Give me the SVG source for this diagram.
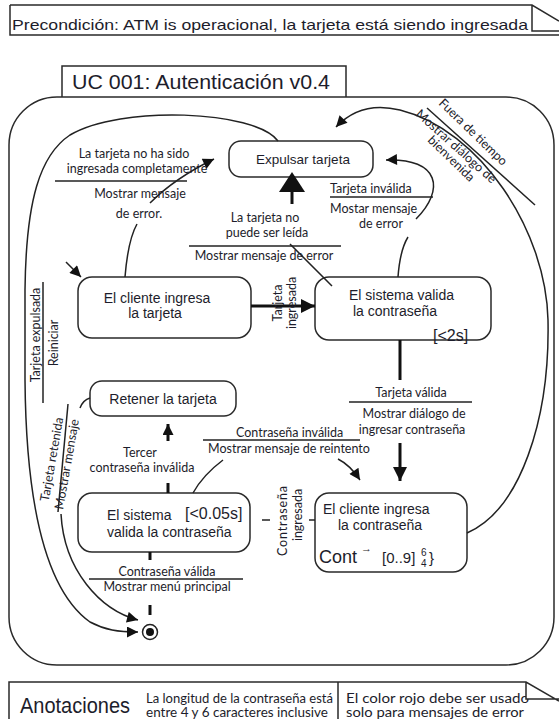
<svg xmlns="http://www.w3.org/2000/svg" width="559" height="719" viewBox="0 0 559 719">
  <style>
    text { font-family: "Liberation Sans", Arial, sans-serif; fill: #1d1d2b; }
    .lbl { font-family: Lato, "Liberation Sans", sans-serif; font-size: 12.5px; }
    .node { fill: #fff; stroke: #2a2a2a; stroke-width: 1.5; }
    .ln { fill: none; stroke: #222; stroke-width: 1.5; }
    .thk { fill: none; stroke: #111; stroke-width: 3; }
    .frame { fill: none; stroke: #2a2a2a; stroke-width: 1.5; }
    .mid { text-anchor: middle; }
  </style>
  <defs>
    <marker id="ah" viewBox="0 0 10 10" refX="10" refY="5" markerWidth="13" markerHeight="11" markerUnits="userSpaceOnUse" orient="auto">
      <path d="M0,0 L10,5 L0,10 z" fill="#111"/>
    </marker>
    <marker id="ahL" viewBox="0 0 10 10" refX="10" refY="5" markerWidth="14" markerHeight="16" markerUnits="userSpaceOnUse" orient="auto">
      <path d="M0,0 L10,5 L0,10 z" fill="#111"/>
    </marker>
  </defs>

  <!-- precondition note -->
  <g id="precondicion">
    <path class="frame" d="M10 5 H532 L559 21 M10 5 V35 H559 M532 5 V31 H559"/>
    <text x="12" y="30" font-size="15" textLength="516" lengthAdjust="spacingAndGlyphs">Precondición: ATM is operacional, la tarjeta está siendo ingresada</text>
  </g>

  <!-- use case frame -->
  <g id="marco">
    <path class="frame" d="M62 97 V66 H346 V97"/>
    <text x="72" y="89" font-size="21" textLength="258" lengthAdjust="spacingAndGlyphs">UC 001: Autenticación v0.4</text>
    <rect class="frame" x="9" y="97" width="545" height="568" rx="48"/>
  </g>

  <!-- states -->
  <g id="expulsar">
    <rect class="node" x="229" y="141" width="144" height="36" rx="12"/>
    <text class="mid" x="303" y="164" font-size="13.5">Expulsar tarjeta</text>
  </g>
  <g id="cliente-tarjeta">
    <rect class="node" x="78" y="277" width="173" height="61" rx="14"/>
    <text class="mid" x="157" y="303" font-size="14">El cliente ingresa</text>
    <text class="mid" x="155" y="318" font-size="14">la tarjeta</text>
  </g>
  <g id="sistema-valida">
    <rect class="node" x="315" y="277" width="176" height="63" rx="14"/>
    <text x="349" y="300" font-size="14">El sistema valida</text>
    <text x="353" y="316" font-size="14">la contraseña</text>
    <text x="433" y="341" font-size="16">[&lt;2s]</text>
  </g>
  <g id="retener">
    <rect class="node" x="90" y="381" width="146" height="35" rx="12"/>
    <text class="mid" x="163" y="404" font-size="14">Retener la tarjeta</text>
  </g>
  <g id="sistema-valida-2">
    <rect class="node" x="78" y="493" width="172" height="59" rx="14"/>
    <text x="107" y="520" font-size="14">El sistema</text>
    <text x="185" y="519" font-size="16">[&lt;0.05s]</text>
    <text x="107" y="537" font-size="14">valida la contraseña</text>
  </g>
  <g id="cliente-contrasena">
    <rect class="node" x="315" y="493" width="152" height="79" rx="14"/>
    <text x="323" y="514" font-size="14">El cliente ingresa</text>
    <text x="338" y="530" font-size="14">la contraseña</text>
    <text x="319" y="563" font-size="18">Cont</text>
    <text x="361" y="552" font-size="11">→</text>
    <text x="382" y="563" font-size="15">[0..9]</text>
    <text x="421" y="556" font-size="10">6</text>
    <text x="421" y="567" font-size="10">4</text>
    <text x="429" y="563" font-size="15">}</text>
  </g>
  <g id="final">
    <circle cx="150" cy="632" r="7.5" fill="#fff" stroke="#222" stroke-width="1.5"/>
    <circle cx="150" cy="632" r="4" fill="#111"/>
  </g>

  <!-- transitions -->
  <g id="conectores">
    <!-- initial -->
    <line class="ln" x1="66" y1="262" x2="81" y2="277" marker-end="url(#ah)"/>

    <!-- tarjeta ingresada -->
    <line class="thk" x1="251" y1="306" x2="315" y2="306" marker-end="url(#ahL)"/>
    <text class="lbl mid" font-size="10.5" transform="translate(282 303) rotate(-90)">Tarjeta</text>
    <text class="lbl mid" font-size="10.5" transform="translate(296 303) rotate(-90)">ingresada</text>

    <!-- tarjeta no ingresada completamente -->
    <path class="ln" d="M125 277 Q128 240 137 224"/>
    <path class="ln" d="M150 203 Q175 178 214 159" marker-end="url(#ah)"/>
    <line class="ln" x1="55" y1="181" x2="187" y2="181"/>
    <text class="lbl mid" x="134" y="158">La tarjeta no ha sido</text>
    <text class="lbl mid" x="137" y="173">ingresada completamente</text>
    <text class="lbl mid" x="140" y="198">Mostrar mensaje</text>
    <text class="lbl mid" x="139" y="218">de error.</text>

    <!-- tarjeta no puede ser leida -->
    <line class="ln" x1="332" y1="286" x2="290" y2="244"/>
    <line class="thk" x1="292" y1="204" x2="292" y2="190"/>
    <polygon points="292,172 279,192 305,192" fill="#111"/>
    <line class="ln" x1="189" y1="246" x2="341" y2="246"/>
    <text class="lbl mid" x="265" y="222">La tarjeta no</text>
    <text class="lbl mid" x="267" y="237">puede ser leída</text>
    <text class="lbl mid" x="264" y="260">Mostrar mensaje de error</text>

    <!-- tarjeta invalida -->
    <path class="ln" d="M398 277 Q400 250 408 237"/>
    <path class="ln" d="M416 219 C445 190 440 158 386 160" marker-end="url(#ah)"/>
    <line class="ln" x1="330" y1="197" x2="433" y2="197"/>
    <text class="lbl" x="330" y="193">Tarjeta inválida</text>
    <text class="lbl" x="330" y="213">Mostar mensaje</text>
    <text class="lbl mid" x="381" y="228">de error</text>

    <!-- fuera de tiempo -->
    <path class="ln" d="M467 533 C520 510 550 420 548 320 C546 230 480 130 400 110 C372 103 352 110 336 127" marker-end="url(#ah)"/>
    <line class="ln" x1="427" y1="108" x2="535" y2="205"/>
    <text class="lbl" font-size="11.5" transform="translate(438 104) rotate(44)">Fuera de tiempo</text>
    <text class="lbl" font-size="11.5" transform="translate(415 115) rotate(42)">Mostrar diálogo de</text>
    <text class="lbl" font-size="11.5" transform="translate(427 141) rotate(44)">bienvenida</text>

    <!-- tarjeta expulsada -->
    <path class="ln" d="M278 141 C255 110 120 105 70 135 C40 155 26 200 25 290 L25 380 C26 500 45 590 90 622 C105 630 118 632 138 632" marker-end="url(#ah)"/>
    <line class="ln" x1="43" y1="282" x2="43" y2="403"/>
    <text class="lbl mid" font-size="12" transform="translate(40 335) rotate(-90)">Tarjeta expulsada</text>
    <text class="lbl mid" font-size="12" transform="translate(58 343) rotate(-90)">Reiniciar</text>

    <!-- tarjeta retenida -->
    <path class="ln" d="M90 398 Q83 400 80 408"/>
    <line class="ln" x1="68" y1="404" x2="58" y2="512"/>
    <path class="ln" d="M61 514 C64 570 100 610 138 620" marker-end="url(#ah)"/>
    <text class="lbl mid" font-size="12" transform="translate(56 460) rotate(-80)">Tarjeta retenida</text>
    <text class="lbl mid" font-size="12" transform="translate(71 465) rotate(-80)">Mostrar mensaje</text>

    <!-- tercer contrasena invalida -->
    <line class="thk" x1="168" y1="483" x2="168" y2="493"/>
    <line class="thk" x1="168" y1="441" x2="168" y2="424" marker-end="url(#ah)"/>
    <text class="lbl mid" x="140" y="457">Tercer</text>
    <text class="lbl mid" x="142" y="472">contraseña inválida</text>

    <!-- contrasena invalida -->
    <path class="ln" d="M193 493 Q203 475 223 460"/>
    <line class="ln" x1="203" y1="440" x2="360" y2="440"/>
    <path class="ln" d="M338 459 Q350 465 360 480" marker-end="url(#ah)"/>
    <text class="lbl" x="236" y="437">Contraseña inválida</text>
    <text class="lbl" x="208" y="453">Mostrar mensaje de reintento</text>

    <!-- tarjeta valida -->
    <line class="thk" x1="400" y1="340" x2="400" y2="380"/>
    <line class="ln" x1="349" y1="402" x2="472" y2="402"/>
    <line class="thk" x1="400" y1="443" x2="400" y2="481" marker-end="url(#ahL)"/>
    <text class="lbl mid" x="411" y="397">Tarjeta válida</text>
    <text class="lbl mid" x="414" y="418">Mostrar diálogo de</text>
    <text class="lbl mid" x="412" y="434">ingresar contraseña</text>

    <!-- contrasena ingresada -->
    <line class="ln" x1="262" y1="520" x2="270" y2="520"/>
    <line class="ln" x1="309" y1="520" x2="315" y2="520"/>
    <text class="lbl mid" font-size="11.5" transform="translate(287 521) rotate(-90)" textLength="70" lengthAdjust="spacing">Contraseña</text>
    <text class="lbl mid" font-size="11.5" transform="translate(302 515) rotate(-90)">ingresada</text>

    <!-- contrasena valida -->
    <line class="thk" x1="150" y1="552" x2="150" y2="560"/>
    <line class="ln" x1="89" y1="579" x2="243" y2="579"/>
    <line class="thk" x1="150" y1="605" x2="150" y2="615"/>
    <text class="lbl mid" x="167" y="576">Contraseña válida</text>
    <text class="lbl mid" x="167" y="591">Mostrar menú principal</text>
  </g>

  <!-- annotations note -->
  <g id="anotaciones">
    <text x="20" y="713" font-size="22" textLength="110" lengthAdjust="spacingAndGlyphs">Anotaciones</text>
    <text class="lbl" x="146" y="703" font-size="12.8" textLength="187" lengthAdjust="spacingAndGlyphs">La longitud de la contraseña está</text>
    <text class="lbl" x="146" y="717" font-size="12.8" textLength="182" lengthAdjust="spacingAndGlyphs">entre 4 y 6 caracteres inclusive</text>
    <text class="lbl" x="346" y="703" font-size="13" textLength="183" lengthAdjust="spacingAndGlyphs">El color rojo debe ser usado</text>
    <text class="lbl" x="346" y="717" font-size="13" textLength="178" lengthAdjust="spacingAndGlyphs">solo para mensajes de error</text>
    <path d="M526 682 L559 701 V699 H526 Z" fill="#fff"/>
    <path class="frame" d="M9 719 V682 H526 L559 701 M526 682 V699 H559 M338 682 V719"/>
  </g>
</svg>
